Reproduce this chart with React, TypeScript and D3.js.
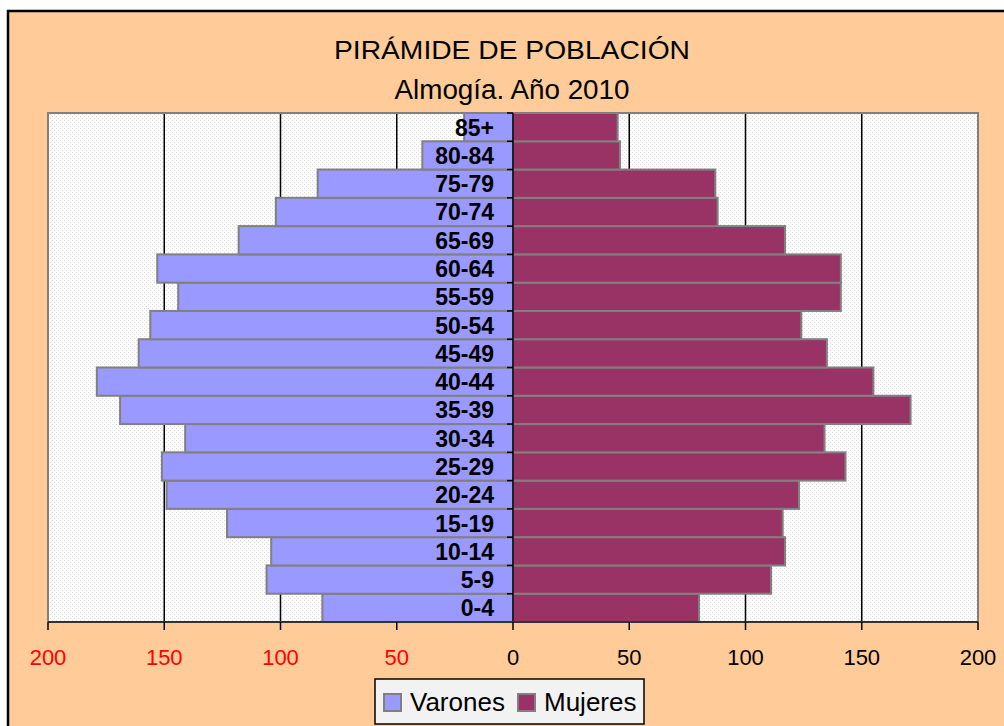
import React from "react";
import * as d3 from "d3";

const categories = ["0-4","5-9","10-14","15-19","20-24","25-29","30-34","35-39","40-44","45-49","50-54","55-59","60-64","65-69","70-74","75-79","80-84","85+"];
const varones = [82,106,104,123,149,151,141,169,179,161,156,144,153,118,102,84,39,21];
const mujeres = [80,111,117,116,123,143,134,171,155,135,124,141,141,117,88,87,46,45];
const xTicks = [-200,-150,-100,-50,0,50,100,150,200];
const title1 = "PIRÁMIDE DE POBLACIÓN";
const title2 = "Almogía. Año 2010";
const legendItems = [{ name: "Varones", color: "#9999FF" }, { name: "Mujeres", color: "#993366" }];

const FONT = "Arial, 'Liberation Sans', sans-serif";

export default function App() {
  const left = 48, right = 978, top = 113, bottom = 622;
  const x = d3.scaleLinear().domain([-200, 200]).range([left, right]);
  const y = d3.scaleBand<string>().domain([...categories].reverse()).range([top, bottom]).padding(0);
  const x0 = x(0);
  const bw = y.bandwidth();

  return (
    <svg width={1004} height={726} style={{ position: "absolute", left: 0, top: 0 }}>
      <defs>
        <pattern id="dots" width={4} height={4} patternUnits="userSpaceOnUse">
          <rect width={4} height={4} fill="#FBFBFB" />
          <rect x={0} y={0} width={1} height={1} fill="#DEDEDE" />
          <rect x={2} y={2} width={1} height={1} fill="#DEDEDE" />
        </pattern>
      </defs>
      <rect x={8} y={11} width={1010} height={730} fill="#FFCC99" stroke="#000" strokeWidth={2.5} />
      <text x={512} y={58.5} textAnchor="middle" fontFamily={FONT} fontSize={26} textLength={356} lengthAdjust="spacingAndGlyphs" fill="#000">{title1}</text>
      <text x={512} y={99} textAnchor="middle" fontFamily={FONT} fontSize={27} textLength={235} lengthAdjust="spacingAndGlyphs" fill="#000">{title2}</text>

      <rect x={left} y={top} width={right - left} height={bottom - top} fill="url(#dots)" />
      {xTicks.filter(t => t !== 0 && Math.abs(t) !== 200).map(t => (
        <line key={"g" + t} x1={x(t)} x2={x(t)} y1={top} y2={bottom} stroke="#000" strokeWidth={1.5} />
      ))}
      <path d={`M${left},${bottom} V${top} H${right} V${bottom}`} fill="none" stroke="#808080" strokeWidth={2} />

      {categories.map((c, i) => (
        <rect key={"m" + c} x={x(-varones[i])} y={y(c)} width={x0 - x(-varones[i])} height={bw} fill="#9999FF" stroke="#808080" strokeWidth={2} />
      ))}
      {categories.map((c, i) => (
        <rect key={"f" + c} x={x0} y={y(c)} width={x(mujeres[i]) - x0} height={bw} fill="#993366" stroke="#808080" strokeWidth={2} />
      ))}

      <line x1={x0} x2={x0} y1={top} y2={bottom} stroke="#000" strokeWidth={1.5} />
      {[...categories.map(c => y(c) as number), bottom].map((v, i) => (
        <line key={"ct" + i} x1={x0 - 6} x2={x0} y1={v} y2={v} stroke="#000" strokeWidth={1.5} />
      ))}
      <line x1={left} x2={right} y1={bottom} y2={bottom} stroke="#333" strokeWidth={2} />
      {xTicks.map(t => (
        <line key={"t" + t} x1={x(t)} x2={x(t)} y1={bottom} y2={bottom + 8} stroke="#000" strokeWidth={1.5} />
      ))}
      {xTicks.map(t => (
        <text key={"l" + t} x={x(t)} y={665} textAnchor="middle" fontFamily={FONT} fontSize={22} fill={t < 0 ? "#FF0000" : "#000"}>{Math.abs(t)}</text>
      ))}

      {categories.map(c => (
        <text key={"c" + c} x={494} y={(y(c) as number) + bw / 2 + 8.5} textAnchor="end" fontFamily={FONT} fontSize={23} fontWeight="bold" fill="#000">{c}</text>
      ))}

      <rect x={375} y={679} width={269} height={45} fill="#F2F2F2" stroke="#000" strokeWidth={1.5} />
      {legendItems.map((it, i) => {
        const sx = i === 0 ? 384 : 518;
        return (
          <g key={it.name}>
            <rect x={sx} y={694} width={17} height={17} fill={it.color} stroke="#808080" strokeWidth={2} />
            <text x={sx + 26} y={711} fontFamily={FONT} fontSize={26} fill="#000">{it.name}</text>
          </g>
        );
      })}
    </svg>
  );
}
